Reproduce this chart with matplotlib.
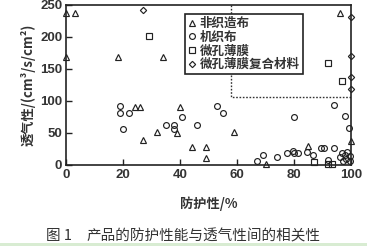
#!/usr/bin/env python3

import matplotlib.pyplot as plt
from matplotlib.patches import Rectangle

# 非织造布 (triangles)
tri_x = [0, 3, 0, 18, 34, 24, 26, 40, 27, 32, 39, 44, 49, 49, 59, 70, 85, 96, 100]
tri_y = [237, 237, 168, 168, 168, 91, 91, 91, 39, 51, 50, 28, 28, 11, 51, 1, 29, 238, 38]

# 机织布 (circles)
cir_x = [19, 19, 22, 20, 35, 38, 38, 40.5, 46, 53, 55, 67, 69, 74, 77.5, 79.5,
         80, 81.5, 80, 84.6, 86.7, 89.3, 90.6, 94.2, 92, 94.2, 96.3, 97, 97.8,
         98.4, 97.2, 99.7, 99.7, 98.7, 99.3, 97.8]
cir_y = [92, 82, 81, 56, 63, 63, 56, 75, 63, 92, 82, 6, 16, 13, 18, 22,
         18, 18, 75, 21, 15, 26, 26, 26, 8, 93, 12, 18, 16,
         9, 6, 14, 6, 21, 58, 76]

# 微孔薄膜 (squares)
sq_x = [29, 92, 97, 87, 92, 93.5]
sq_y = [201, 160, 131, 5, 2, 2]

# 微孔薄膜复合材料 (diamonds)
dia_x = [27, 100, 100, 100, 100]
dia_y = [242, 231, 170, 138, 119]

# dashed region corner
region_x = 58
region_y = 106

labels = ['非织造布', '机织布', '微孔薄膜', '微孔薄膜复合材料']
caption_num = '图 1'
caption = '产品的防护性能与透气性间的相关性'

plt.rcParams['font.family'] = ['Noto Sans CJK SC', 'DejaVu Sans']


def main():
    fig = plt.figure(figsize=(3.67, 2.46), dpi=100)
    ax = fig.add_axes([0.1807, 0.3293, 0.7757, 0.6504])

    style = dict(linestyle='none', mfc='none', mec='#222222', mew=0.85,
                 clip_on=False)
    ax.plot(tri_x, tri_y, marker='^', ms=4.0, label=labels[0], **style)
    ax.plot(cir_x, cir_y, marker='o', ms=4.2, label=labels[1], **style)
    ax.plot(sq_x, sq_y, marker='s', ms=3.9, label=labels[2], **style)
    ax.plot(dia_x, dia_y, marker='D', ms=3.2, label=labels[3], **style)

    # dotted box in the upper right
    ax.plot([region_x, region_x, 100], [250, region_y, region_y],
            linestyle=(0, (1.2, 1.2)), color='#333333', lw=1.0)

    ax.set_xlim(0, 100)
    ax.set_ylim(0, 250)
    ax.set_xticks([0, 20, 40, 60, 80, 100])
    ax.set_yticks([0, 50, 100, 150, 200, 250])
    ax.tick_params(direction='in', length=4, width=1, colors='#222222',
                   labelsize=9.5, pad=3)
    for lab in ax.get_xticklabels() + ax.get_yticklabels():
        lab.set_family(['Liberation Sans', 'DejaVu Sans'])
        lab.set_fontweight('bold')
        lab.set_color('#333333')
    for sp in ax.spines.values():
        sp.set_linewidth(1.2)
        sp.set_color('#222222')

    ax.set_ylabel('透气性/(cm³/s/cm²)', fontsize=9.5, fontweight='bold',
                  color='#333333', labelpad=3)
    ax.set_xlabel('防护性/%', fontsize=9.5, fontweight='bold',
                  color='#333333', labelpad=11)

    leg = ax.legend(loc='upper left', bbox_to_anchor=(0.417, 0.944),
                    borderaxespad=0, fontsize=9, labelspacing=0.05,
                    handlelength=0.6, handletextpad=0.3, borderpad=0.25,
                    fancybox=False, framealpha=1, edgecolor='#222222')
    leg.get_frame().set_linewidth(1.2)
    for t in leg.get_texts():
        t.set_fontweight('bold')
        t.set_color('#333333')

    fig.text(46 / 367, 1 - 236 / 246, caption_num, fontsize=10.5,
             va='center', ha='left', color='#333333')
    fig.text(86 / 367, 1 - 236 / 246, caption, fontsize=10.5,
             va='center', ha='left', color='#333333')

    # light green strip at the bottom edge
    fig.patches.append(Rectangle((0, 0), 1, 3 / 246, transform=fig.transFigure,
                                 facecolor='#d8ecd2', edgecolor='none'))

    fig.savefig('out.png', dpi=100)


if __name__ == '__main__':
    main()
